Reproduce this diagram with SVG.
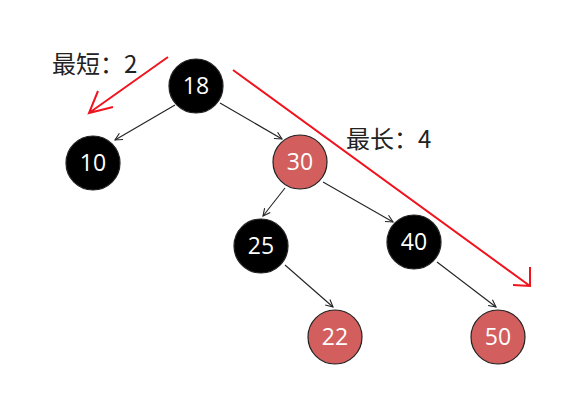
<svg xmlns="http://www.w3.org/2000/svg" width="576" height="408" viewBox="0 0 576 408">
<defs>
<style>
.n circle{stroke:#222;stroke-width:1.2}
.b circle{fill:#000}
.r circle{fill:#d25e5e}
.n text{fill:#fff;font-family:"Open Sans","Noto Sans",sans-serif;font-size:23px;text-anchor:middle}
.e{stroke:#222;stroke-width:1.1;fill:none;marker-end:url(#ah)}
.red{stroke:#f0141e;stroke-width:2;fill:none}
.lbl{font-family:"Noto Sans CJK SC","Noto Sans",sans-serif;font-size:24px;fill:#222}
</style>
<marker id="ah" viewBox="0 0 10 10" refX="9" refY="5" markerWidth="9" markerHeight="9" markerUnits="userSpaceOnUse" orient="auto">
<path d="M1,1 L9,5 L1,9" fill="none" stroke="#222" stroke-width="1.2"/>
</marker>
</defs>
<rect width="576" height="408" fill="#fff"/>
<g id="connectors">
<line class="e" x1="175" y1="105" x2="115" y2="140"/>
<line class="e" x1="220" y1="103" x2="282" y2="139"/>
<line class="e" x1="285" y1="188" x2="263" y2="216"/>
<line class="e" x1="323" y1="182" x2="393" y2="222"/>
<line class="e" x1="285" y1="265" x2="333" y2="307"/>
<line class="e" x1="437" y1="262" x2="496" y2="307"/>
</g>
<g id="annotations">
<path class="red" d="M168,57 L89,113 M98,91 L89,113 L113,107"/>
<path class="red" d="M233,70 L530,286 M530,267 L530,286 L513,285"/>
<text class="lbl" x="52" y="73">最短：2</text>
<text class="lbl" x="346" y="148">最长：4</text>
</g>
<g id="n18" class="n b"><circle cx="196" cy="86" r="27"/><text x="196" y="94">18</text></g>
<g id="n10" class="n b"><circle cx="93" cy="163" r="27"/><text x="93" y="171">10</text></g>
<g id="n30" class="n r"><circle cx="300" cy="162" r="27"/><text x="300" y="170">30</text></g>
<g id="n25" class="n b"><circle cx="261" cy="246" r="27"/><text x="261" y="254">25</text></g>
<g id="n40" class="n b"><circle cx="414" cy="242" r="27"/><text x="414" y="250">40</text></g>
<g id="n22" class="n r"><circle cx="335" cy="337" r="27"/><text x="335" y="345">22</text></g>
<g id="n50" class="n r"><circle cx="498" cy="337" r="27"/><text x="498" y="345">50</text></g>
</svg>
